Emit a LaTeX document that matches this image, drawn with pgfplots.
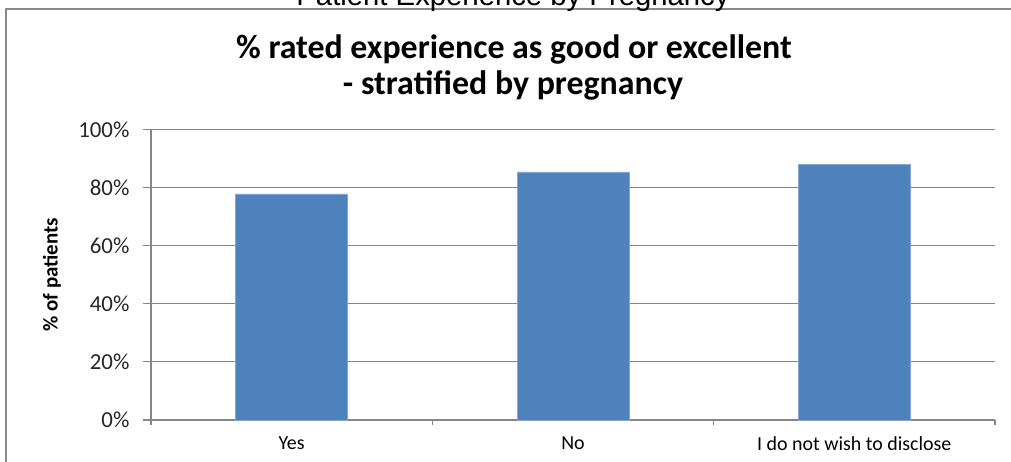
\documentclass[border=0pt]{standalone}
\usepackage{pgfplots}
\pgfplotsset{compat=1.18}
\usepackage{fontspec}
\setmainfont{Carlito}
\newfontfamily\arialfont{Liberation Sans}
\definecolor{barblue}{HTML}{4F81BD}
\definecolor{gridgray}{HTML}{868686}
\definecolor{framegray}{HTML}{8A8A8A}
\begin{document}
\begin{tikzpicture}[x=1bp,y=1bp]
\path[use as bounding box] (0,0) rectangle (1011,462);
\draw[framegray, line width=2.5bp] (6,-10) -- (6,453) -- (1020,453);
\node[anchor=base, font=\arialfont\fontsize{29.4}{32}\selectfont, inner sep=0pt] at (513,456) {Patient Experience by Pregnancy};
\node[anchor=base, font=\bfseries\fontsize{34}{36}\selectfont, inner sep=0pt] at (514,403) {\% rated experience as good or excellent};
\node[anchor=base, font=\bfseries\fontsize{34}{36}\selectfont, inner sep=0pt] at (513,367) {- stratified by pregnancy};
\begin{axis}[
  at={(151bp,42bp)}, anchor=south west,
  width=844bp, height=290.5bp, scale only axis,
  xmin=-0.5, xmax=2.5, ymin=0, ymax=100,
  axis x line=bottom, axis y line=left,
  axis line style={-, gridgray, line width=1.2bp},
  ytick={0,20,40,60,80,100},
  yticklabel={\pgfmathprintnumber{\tick}\%},
  ymajorgrids, major grid style={gridgray, line width=1.2bp},
  xtick={0,1,2},
  xticklabels={Yes,No,I do not wish to disclose},
  minor xtick={-0.5,0.5,1.5,2.5},
  tick align=outside,
  major tick length=8bp,
  minor tick length=5bp,
  x tick style={draw=none},
  minor x tick style={draw=gridgray, line width=1.2bp},
  y tick style={gridgray, line width=1.2bp},
  /pgf/number format/assume math mode=true,
  yticklabel style={font=\fontsize{23}{26}\selectfont, color=black!85, xshift=-10bp},
  xticklabel style={font=\fontsize{20}{23}\selectfont, color=black, yshift=-5bp},
  ylabel={\% of patients},
  ylabel style={font=\bfseries\fontsize{21}{24}\selectfont, at={(axis description cs:-0.1173,0.5)}, anchor=center, rotate=0},
  clip=false,
]
\addplot[ybar, bar width=112bp, fill=barblue, draw=barblue!70!white, line width=0.6bp] coordinates {(0,77.8) (1,85.4) (2,88.0)};
\end{axis}
\end{tikzpicture}
\end{document}
